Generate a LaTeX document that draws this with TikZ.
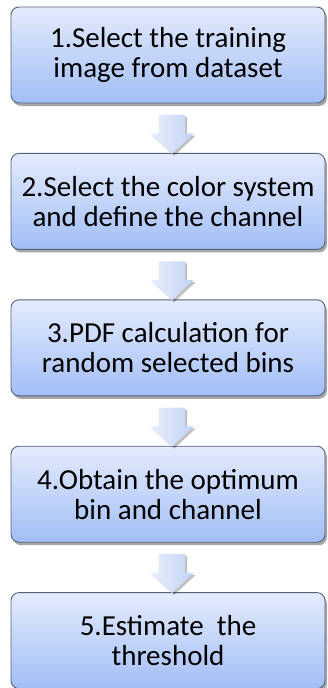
\documentclass[tikz,border=0pt]{standalone}
\usepackage{fontspec}
\setmainfont{Carlito}
\usetikzlibrary{positioning,calc,shapes.arrows,shadows}

\definecolor{boxtop}{HTML}{E4EBFC}
\definecolor{boxbottom}{HTML}{A2BEF6}
\definecolor{boxline}{HTML}{56617A}
\definecolor{arrtop}{HTML}{E8EEFB}
\definecolor{arrbottom}{HTML}{C2D3F6}

\begin{document}
\begin{tikzpicture}[x=1pt, y=1pt, node distance=49.5pt,
    stepbox/.style={rectangle, rounded corners=8pt, draw=boxline, line width=0.9pt,
        top color=boxtop, bottom color=boxbottom,
        minimum width=314pt, minimum height=96pt, align=center,
        font=\fontsize{29}{30}\selectfont,
        drop shadow={shadow xshift=2pt, shadow yshift=-3pt, opacity=0.35, fill=black}},
    flowarrow/.style={single arrow, rotate=-90, draw=none,
        inner xsep=0pt, inner ysep=13pt,
        left color=arrtop, right color=arrbottom,
        minimum height=39pt, minimum width=0pt, single arrow head extend=8.5pt,
        single arrow tip angle=94,
        drop shadow={shadow xshift=2pt, shadow yshift=-2pt, opacity=0.25, fill=black}}]
    \useasboundingbox (0,0) rectangle (327,-688);

    % Steps {s1, s2, s3, s4, s5}
    \node [stepbox] (s1) at (168,-55) {1.Select the training\\image from dataset};
    \node [stepbox] (s2) [below=of s1] {2.Select the color system\\and define the channel};
    \node [stepbox] (s3) [below=of s2] {3.PDF calculation for\\random selected bins};
    \node [stepbox] (s4) [below=of s3] {4.Obtain the optimum\\bin and channel};
    \node [stepbox] (s5) [below=of s4] {5.Estimate\ \ the\\threshold};

    % Arrows between the steps
    \foreach \i/\j in {1/2, 2/3, 3/4, 4/5}
        \node [flowarrow] (a\i) at ($(s\i.south)!0.5!(s\j.north)+(4,0)$) {};

\end{tikzpicture}
\end{document}
